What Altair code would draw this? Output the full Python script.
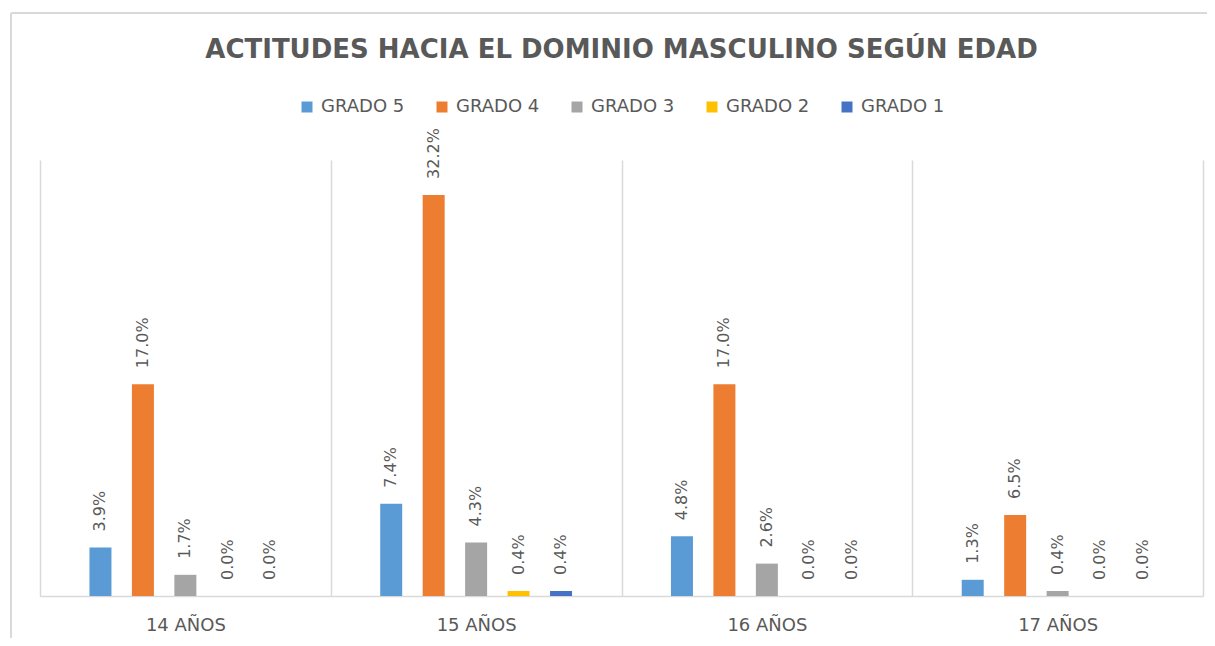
import altair as alt
import pandas as pd

ages = ["14 AÑOS", "15 AÑOS", "16 AÑOS", "17 AÑOS"]
grades = ["GRADO 5", "GRADO 4", "GRADO 3", "GRADO 2", "GRADO 1"]
grado5 = [3.9, 7.4, 4.8, 1.3]
grado4 = [17.0, 32.2, 17.0, 6.5]
grado3 = [1.7, 4.3, 2.6, 0.4]
grado2 = [0.0, 0.4, 0.0, 0.0]
grado1 = [0.0, 0.4, 0.0, 0.0]
colors = ["#5B9BD5", "#ED7D31", "#A5A5A5", "#FFC000", "#4472C4"]

series = [grado5, grado4, grado3, grado2, grado1]
rows = []
for g, vals in zip(grades, series):
    for a, v in zip(ages, vals):
        rows.append({"age": a, "grade": g, "value": v, "label": f"{v:.1f}%"})
df = pd.DataFrame(rows)

W, H = 1163, 436
FONT = "DejaVu Sans"
GRAY = "#595959"

# offset domain with empty slots at both ends to leave space at group edges
offset_domain = ["_a"] + grades + ["_b"]

x_enc = alt.X("age:N", sort=ages,
              scale=alt.Scale(paddingInner=0, paddingOuter=0),
              axis=alt.Axis(title=None, tickBand="extent", grid=True,
                            gridColor="#d9d9d9", gridWidth=1.5, ticks=False,
                            domainColor="#d9d9d9", domainWidth=1.5,
                            labelAngle=0, labelFont=FONT, labelFontSize=18,
                            labelColor=GRAY, labelPadding=20))
xo_enc = alt.XOffset("grade:N",
                     scale=alt.Scale(domain=offset_domain, paddingInner=0.482, paddingOuter=0.165))
y_enc = alt.Y("value:Q", scale=alt.Scale(domain=[0, 35]), axis=None)

base = alt.Chart(df)
bars = base.mark_bar().encode(
    x=x_enc, xOffset=xo_enc, y=y_enc,
    color=alt.Color("grade:N", sort=grades,
                    scale=alt.Scale(domain=grades, range=colors),
                    legend=alt.Legend(title=None, orient="none", legendX=258, legendY=-62,
                                      direction="horizontal", symbolType="square",
                                      symbolSize=121, symbolStrokeWidth=0,
                                      labelFont=FONT, labelFontSize=18, labelColor=GRAY,
                                      labelOffset=5, columnPadding=28)),
)
labels = base.mark_text(angle=270, align="left", baseline="middle", dx=16,
                        font=FONT, fontSize=16, color=GRAY).encode(
    x=x_enc, xOffset=xo_enc, y=y_enc, text="label:N")

one = alt.Chart(pd.DataFrame({"k": [0]}))
frame_top = one.mark_rule(color="#d9d9d9", strokeWidth=2).encode(
    x=alt.value(-29), x2=alt.value(W + 40), y=alt.value(-147))
frame_left = one.mark_rule(color="#d9d9d9", strokeWidth=2).encode(
    x=alt.value(-29), y=alt.value(-147), y2=alt.value(H + 60))

chart = alt.layer(frame_top, frame_left, bars, labels).properties(
    width=W, height=H,
    autosize=alt.AutoSizeParams(type="none"),
    padding={"left": 32, "top": 152, "right": 4, "bottom": 42},
    title=alt.TitleParams("ACTITUDES HACIA EL DOMINIO MASCULINO SEGÚN EDAD",
                          font=FONT, fontSize=26, fontWeight="bold", color=GRAY,
                          anchor="middle", frame="group", baseline="bottom", offset=-77),
).configure_view(stroke=None)

chart.save("out.html", embed_options={"renderer": "svg", "actions": False})
